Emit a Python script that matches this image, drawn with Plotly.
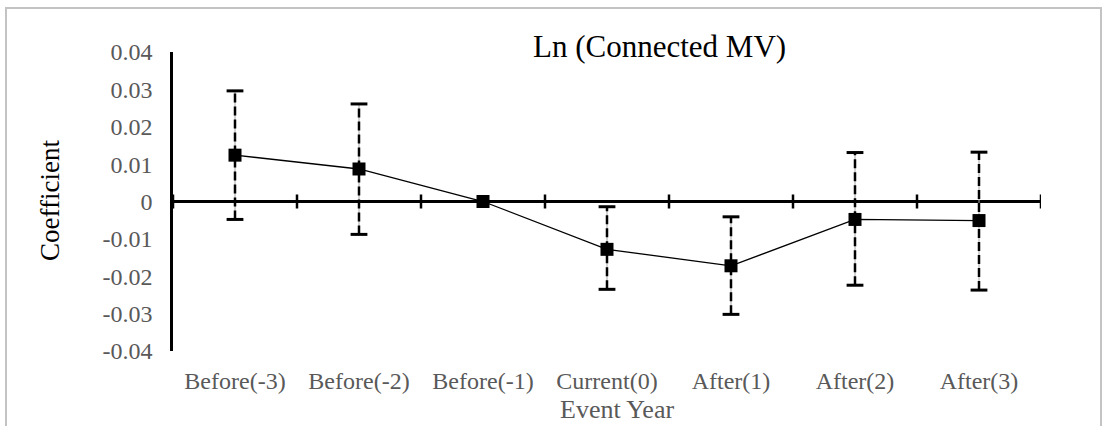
import plotly.graph_objects as go

# ---- data ----
categories = ["Before(-3)", "Before(-2)", "Before(-1)", "Current(0)", "After(1)", "After(2)", "After(3)"]
coefficients = [0.0124, 0.0087, 0.0, -0.0128, -0.0172, -0.0048, -0.0051]
ci_upper = [0.0296, 0.0261, None, -0.0014, -0.0041, 0.0131, 0.0132]
ci_lower = [-0.0048, -0.0088, None, -0.0235, -0.0302, -0.0224, -0.0237]
y_tick_values = [-0.04, -0.03, -0.02, -0.01, 0.0, 0.01, 0.02, 0.03, 0.04]
y_tick_labels = ["-0.04", "-0.03", "-0.02", "-0.01", "0", "0.01", "0.02", "0.03", "0.04"]
chart_title = "Ln (Connected MV)"
y_title = "Coefficient"
x_title = "Event Year"

FONT = "Liberation Serif, Times New Roman, serif"
GRAY = "#595959"

W, H = 1108, 426
L, R, T, B = 173, 67, 52, 75
PW = W - L - R
PH = H - T - B

def px_x(p):
    return (p - L) / PW

def px_y(p):
    return (H - B - p) / PH

# error bar segments
eb_x, eb_y = [], []
cap_x, cap_y = [], []
for c, lo, hi in zip(categories, ci_lower, ci_upper):
    if lo is None or hi is None:
        continue
    eb_x += [c, c, None]
    eb_y += [lo, hi, None]
    cap_x += [c, c]
    cap_y += [lo, hi]

fig = go.Figure()

# thin gray underlay of error bars
fig.add_trace(go.Scatter(x=eb_x, y=eb_y, mode="lines",
                         line=dict(color="#a6a6a6", width=1),
                         hoverinfo="skip", showlegend=False))
# dashed error bars
fig.add_trace(go.Scatter(x=eb_x, y=eb_y, mode="lines",
                         line=dict(color="black", width=2.5, dash="9px,4px"),
                         hoverinfo="skip", showlegend=False))
# caps
fig.add_trace(go.Scatter(x=cap_x, y=cap_y, mode="markers",
                         marker=dict(symbol="line-ew", size=12,
                                     line=dict(color="black", width=3)),
                         hoverinfo="skip", showlegend=False))
# coefficient line + markers
fig.add_trace(go.Scatter(x=categories, y=coefficients, mode="lines+markers",
                         line=dict(color="black", width=1.3),
                         marker=dict(symbol="square", size=13, color="black"),
                         showlegend=False))

shapes = []
# category boundary tick marks crossing the zero line
for i in range(len(categories) + 1):
    shapes.append(dict(type="line", xref="x", yref="y",
                       x0=i - 0.5, x1=i - 0.5,
                       ysizemode="pixel", yanchor=0, y0=-7, y1=7,
                       line=dict(color="black", width=2.5)))
# outer chart border
shapes.append(dict(type="rect", xref="paper", yref="paper",
                   x0=px_x(6), x1=px_x(1101), y0=px_y(440), y1=px_y(8),
                   line=dict(color="#c3c3c3", width=2), fillcolor="rgba(0,0,0,0)",
                   layer="below"))

annotations = [
    dict(text=chart_title, xref="paper", yref="paper",
         x=px_x(659), y=px_y(46), xanchor="center", yanchor="middle",
         showarrow=False, font=dict(family=FONT, size=31, color="black")),
    dict(text=y_title, xref="paper", yref="paper",
         x=px_x(50), y=px_y(201), xanchor="center", yanchor="middle",
         textangle=-90, showarrow=False,
         font=dict(family=FONT, size=27, color="black")),
    dict(text=x_title, xref="paper", yref="paper",
         x=px_x(617), y=px_y(426), xanchor="center", yanchor="bottom",
         showarrow=False, font=dict(family=FONT, size=26, color=GRAY)),
]

fig.update_layout(
    width=W, height=H, autosize=False,
    margin=dict(l=L, r=R, t=T, b=B, pad=0),
    paper_bgcolor="white", plot_bgcolor="white",
    shapes=shapes, annotations=annotations,
    xaxis=dict(type="category", categoryorder="array", categoryarray=categories,
               range=[-0.5, len(categories) - 0.5],
               showline=False, showgrid=False, zeroline=False, ticks="",
               ticklabelstandoff=13,
               tickfont=dict(family=FONT, size=24, color=GRAY)),
    yaxis=dict(range=[-0.04, 0.04], tickvals=y_tick_values, ticktext=y_tick_labels,
               showline=True, linecolor="black", linewidth=2.5,
               showgrid=False, zeroline=True, zerolinecolor="black", zerolinewidth=2.5,
               ticks="", ticklabelstandoff=13,
               tickfont=dict(family=FONT, size=24, color=GRAY)),
)

fig.write_html("out.html")
